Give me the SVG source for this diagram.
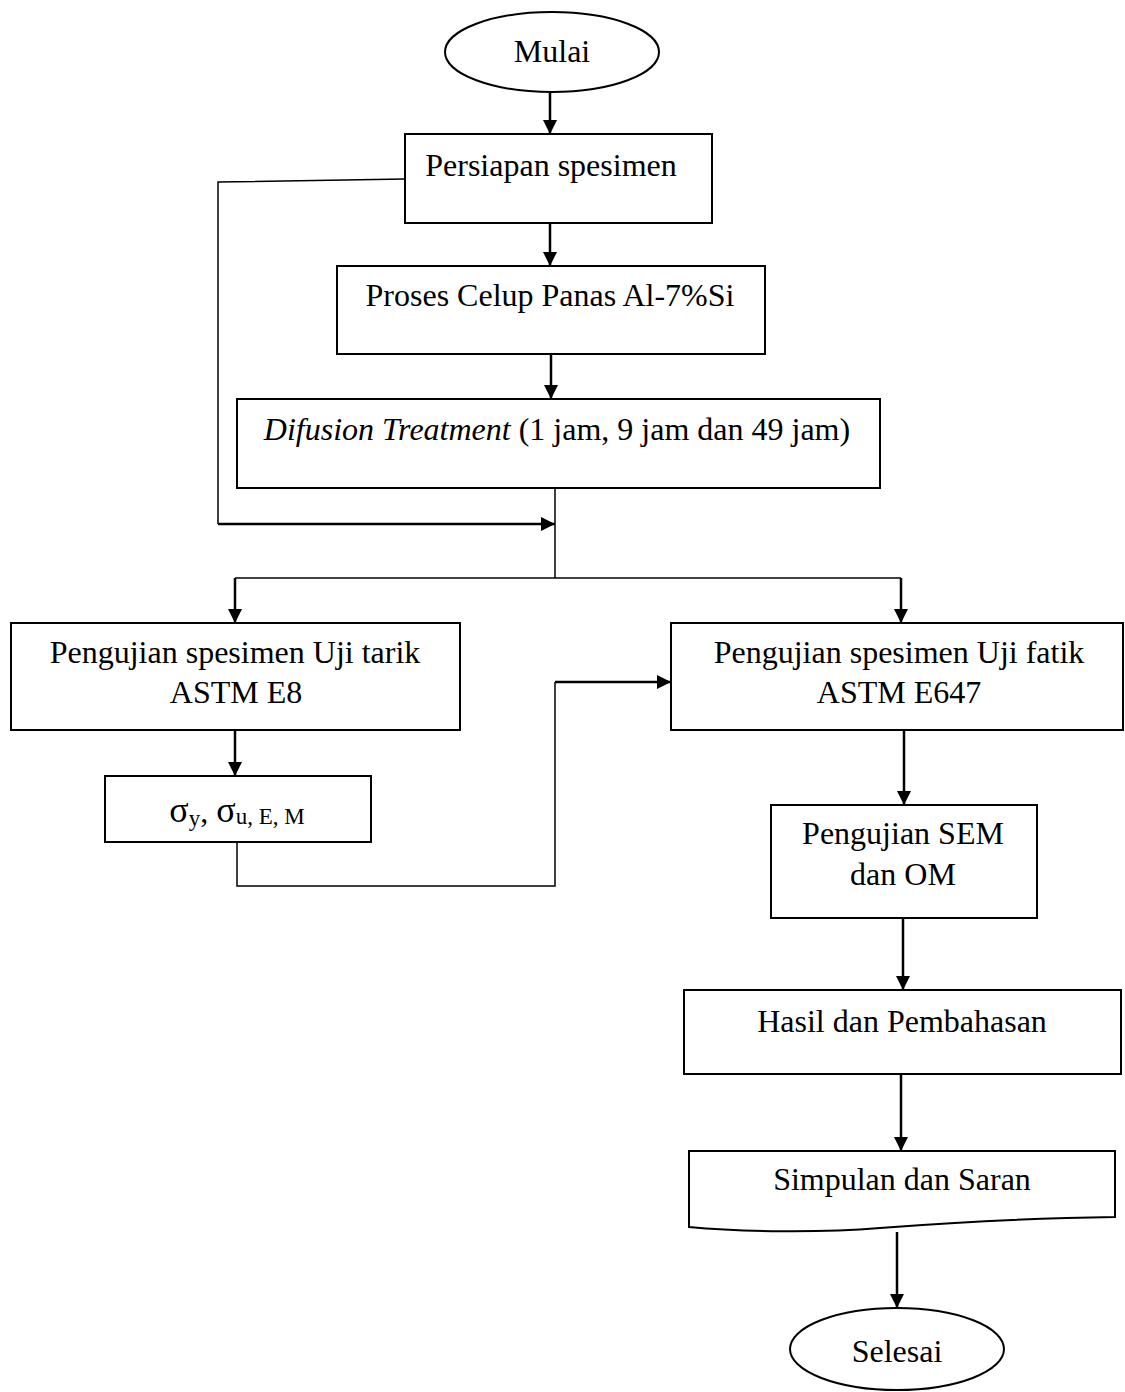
<svg xmlns="http://www.w3.org/2000/svg" width="1125" height="1392" viewBox="0 0 1125 1392">
<style>
.box{fill:#fff;stroke:#000;stroke-width:2}
.t{font-family:"Liberation Serif","Times New Roman",serif;font-size:32px;fill:#000;text-anchor:middle}
.arr{fill:none;stroke:#000;stroke-width:2.5;marker-end:url(#ah)}
.thin{fill:none;stroke:#000;stroke-width:1.5}
</style>
<defs>
<marker id="ah" markerUnits="userSpaceOnUse" markerWidth="14" markerHeight="14" viewBox="0 0 14 14" refX="14" refY="7" orient="auto">
<path d="M0,0 L14,7 L0,14 Z" fill="#000"/>
</marker>
</defs>
<rect width="1125" height="1392" fill="#fff"/>
<g id="connectors">
<path class="arr" d="M550,93 V134"/>
<path class="thin" d="M405,179 L218,182 V524"/>
<path class="arr" d="M218,524 H555"/>
<path class="arr" d="M550,223 V266"/>
<path class="arr" d="M551,354 V399"/>
<path class="thin" d="M555,488 V578"/>
<path class="thin" d="M235,578 H901"/>
<path class="arr" d="M235,578 V623"/>
<path class="arr" d="M901,578 V623"/>
<path class="arr" d="M235,730 V776"/>
<path class="thin" d="M237,842 V886 H555 V682"/>
<path class="arr" d="M555,682 H671"/>
<path class="arr" d="M904,730 V805"/>
<path class="arr" d="M903,918 V990"/>
<path class="arr" d="M901,1074 V1151"/>
<path class="arr" d="M897,1232 V1308"/>
</g>
<g id="mulai">
<ellipse class="box" cx="552" cy="52" rx="107" ry="40"/>
<text class="t" x="552" y="62">Mulai</text>
</g>
<g id="persiapan">
<rect class="box" x="405" y="134" width="307" height="89"/>
<text class="t" x="551" y="176">Persiapan spesimen</text>
</g>
<g id="proses">
<rect class="box" x="337" y="266" width="428" height="88"/>
<text class="t" x="550" y="306">Proses Celup Panas Al-7%Si</text>
</g>
<g id="difusion">
<rect class="box" x="237" y="399" width="643" height="89"/>
<text class="t" x="557" y="440"><tspan font-style="italic">Difusion Treatment</tspan> (1 jam, 9 jam dan 49 jam)</text>
</g>
<g id="uji-tarik">
<rect class="box" x="11" y="623" width="449" height="107"/>
<text class="t" x="235" y="663">Pengujian spesimen Uji tarik</text>
<text class="t" x="236" y="703">ASTM E8</text>
</g>
<g id="sigma">
<rect class="box" x="105" y="776" width="266" height="66"/>
<text class="t" x="237" y="822"><tspan font-size="36">σ</tspan><tspan font-size="23" dy="4">y</tspan><tspan dy="-4">, </tspan><tspan font-size="36">σ</tspan><tspan font-size="23" dy="2">u, E, M</tspan></text>
</g>
<g id="uji-fatik">
<rect class="box" x="671" y="623" width="452" height="107"/>
<text class="t" x="899" y="663">Pengujian spesimen Uji fatik</text>
<text class="t" x="899" y="703">ASTM E647</text>
</g>
<g id="sem">
<rect class="box" x="771" y="805" width="266" height="113"/>
<text class="t" x="903" y="844">Pengujian SEM</text>
<text class="t" x="903" y="885">dan OM</text>
</g>
<g id="hasil">
<rect class="box" x="684" y="990" width="437" height="84"/>
<text class="t" x="902" y="1032">Hasil dan Pembahasan</text>
</g>
<g id="simpulan">
<path class="box" d="M689,1151 H1115 V1217 C1040,1218 960,1222 880,1228 C820,1233 740,1232 689,1227 Z"/>
<text class="t" x="902" y="1190">Simpulan dan Saran</text>
</g>
<g id="selesai">
<ellipse class="box" cx="897" cy="1349" rx="107" ry="41"/>
<text class="t" x="897" y="1362">Selesai</text>
</g>
</svg>
